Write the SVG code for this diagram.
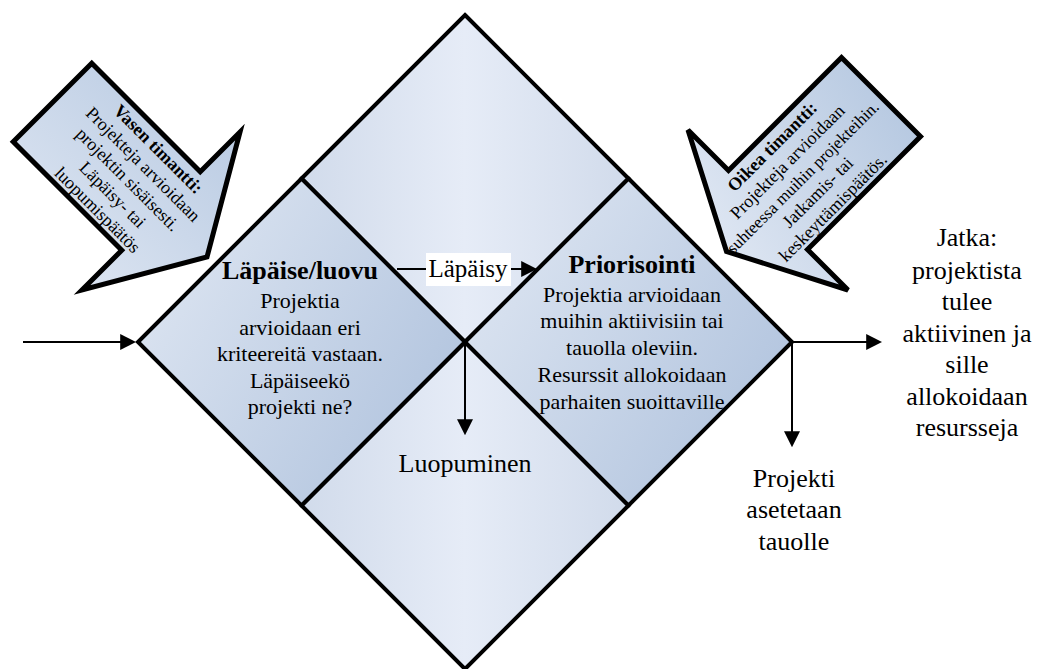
<svg xmlns="http://www.w3.org/2000/svg" width="1037" height="669" viewBox="0 0 1037 669">
  <defs>
    <!-- light fill for the upper and lower diamonds -->
    <linearGradient id="gLight" x1="0" y1="0" x2="1" y2="0">
      <stop offset="0" stop-color="#d1dbeb"/>
      <stop offset="0.5" stop-color="#e6ecf7"/>
      <stop offset="1" stop-color="#d1dbeb"/>
    </linearGradient>
    <!-- darker fill for the two decision diamonds -->
    <linearGradient id="gSide" x1="0" y1="0.2" x2="1" y2="0.8">
      <stop offset="0" stop-color="#dee6f2"/>
      <stop offset="1" stop-color="#afc2dd"/>
    </linearGradient>
    <linearGradient id="gLeftCallout" x1="1" y1="0" x2="0" y2="1">
      <stop offset="0" stop-color="#b4c7e0"/>
      <stop offset="1" stop-color="#e2e9f4"/>
    </linearGradient>
    <linearGradient id="gRightCallout" x1="1" y1="0.2" x2="0" y2="0.8">
      <stop offset="0" stop-color="#b4c7e0"/>
      <stop offset="1" stop-color="#e2e9f4"/>
    </linearGradient>
    <marker id="arrow" viewBox="0 0 10 10" markerWidth="8" markerHeight="8" refX="8" refY="5" orient="auto" markerUnits="strokeWidth">
      <path d="M0,0 L10,5 L0,10 z" fill="#000"/>
    </marker>
  </defs>
  <style>
    .dia { stroke: #000; stroke-width: 4; stroke-linejoin: miter; }
    .callout { stroke: #000; stroke-width: 5; stroke-linejoin: miter; }
    .conn { stroke: #000; stroke-width: 2; fill: none; }
    text { font-family: "Liberation Serif", "Times New Roman", serif; fill: #000; text-anchor: middle; }
    .title { font-size: 26px; font-weight: bold; }
    .body { font-size: 22px; }
    .label { font-size: 26px; }
    .note { font-size: 18px; }
    .noteTitle { font-size: 18px; font-weight: bold; }
  </style>

  <rect width="1037" height="669" fill="#fff"/>

  <!-- upper diamond -->
  <g id="diamond-top">
    <polygon class="dia" fill="url(#gLight)" points="465,15 628.5,178.5 465,342 301.5,178.5"/>
  </g>

  <!-- lower diamond: abandonment -->
  <g id="diamond-bottom">
    <polygon class="dia" fill="url(#gLight)" points="465,342 628.5,505.5 465,669 301.5,505.5"/>
    <text class="label" x="465" y="472">Luopuminen</text>
  </g>

  <!-- left diamond: pass / abandon -->
  <g id="diamond-left">
    <polygon class="dia" fill="url(#gSide)" points="301.5,178.5 465,342 301.5,505.5 138,342"/>
    <text class="title" x="300" y="279">Läpäise/luovu</text>
    <text class="body" x="300" y="308">Projektia</text>
    <text class="body" x="300" y="334.5">arvioidaan eri</text>
    <text class="body" x="300" y="361">kriteereitä vastaan.</text>
    <text class="body" x="300" y="388">Läpäiseekö</text>
    <text class="body" x="300" y="414">projekti ne?</text>
  </g>

  <!-- right diamond: prioritisation -->
  <g id="diamond-right">
    <polygon class="dia" fill="url(#gSide)" points="628.5,178.5 792,342 628.5,505.5 465,342"/>
    <text class="title" x="632" y="273">Priorisointi</text>
    <text class="body" x="632" y="302">Projektia arvioidaan</text>
    <text class="body" x="632" y="328">muihin aktiivisiin tai</text>
    <text class="body" x="632" y="355">tauolla oleviin.</text>
    <text class="body" x="632" y="382">Resurssit allokoidaan</text>
    <text class="body" x="632" y="409">parhaiten suoittaville</text>
  </g>

  <!-- left callout arrow -->
  <g id="callout-left">
    <polygon class="callout" fill="url(#gLeftCallout)" points="91.75,63.25 200.25,171.75 240,132 207,257 82,290 121.75,250.25 13.25,141.75"/>
    <g transform="translate(128,179.5) rotate(45)">
      <text class="noteTitle" x="0" y="-37">Vasen timantti:</text>
      <text class="note" x="0" y="-15.5">Projekteja arvioidaan</text>
      <text class="note" x="0" y="6">projektin sisäisesti.</text>
      <text class="note" x="0" y="27.5">Läpäisy- tai</text>
      <text class="note" x="0" y="49">luopumispäätös</text>
    </g>
  </g>

  <!-- right callout arrow -->
  <g id="callout-right">
    <polygon class="callout" fill="url(#gRightCallout)" points="841.5,57.5 920.5,136.5 807.5,249.5 848,290 726.5,251.5 688,130 728.5,170.5"/>
    <g transform="translate(802.5,177) rotate(-45)">
      <text class="noteTitle" x="0" y="-37">Oikea timantti:</text>
      <text class="note" x="0" y="-15.5">Projekteja arvioidaan</text>
      <text class="note" x="0" y="6" style="font-size:17px">suhteessa muihin projekteihin.</text>
      <text class="note" x="0" y="27.5">Jatkamis- tai</text>
      <text class="note" x="0" y="49">keskeyttämispäätös.</text>
    </g>
  </g>

  <!-- outcome labels -->
  <g id="label-continue">
    <text class="label" x="967" y="246">Jatka:</text>
    <text class="label" x="967" y="279">projektista</text>
    <text class="label" x="967" y="310">tulee</text>
    <text class="label" x="967" y="342">aktiivinen ja</text>
    <text class="label" x="967" y="373">sille</text>
    <text class="label" x="967" y="405">allokoidaan</text>
    <text class="label" x="967" y="436">resursseja</text>
  </g>
  <g id="label-pause">
    <text class="label" x="794" y="487">Projekti</text>
    <text class="label" x="794" y="518">asetetaan</text>
    <text class="label" x="794" y="550">tauolle</text>
  </g>

  <!-- connectors -->
  <g id="connectors">
    <line class="conn" x1="23" y1="342" x2="133" y2="342" marker-end="url(#arrow)"/>
    <line class="conn" x1="397" y1="269" x2="428" y2="269"/>
    <line class="conn" x1="510" y1="269" x2="534" y2="269" marker-end="url(#arrow)"/>
    <line class="conn" x1="465" y1="342" x2="465" y2="432" marker-end="url(#arrow)"/>
    <line class="conn" x1="792" y1="342" x2="879" y2="342" marker-end="url(#arrow)"/>
    <line class="conn" x1="792" y1="342" x2="792" y2="444" marker-end="url(#arrow)"/>
  </g>

  <!-- pass label on the connector between the decision diamonds -->
  <g id="label-pass">
    <rect x="426" y="253" width="85" height="33" fill="#fff"/>
    <text x="468" y="277" style="font-size:25px">Läpäisy</text>
  </g>
</svg>
